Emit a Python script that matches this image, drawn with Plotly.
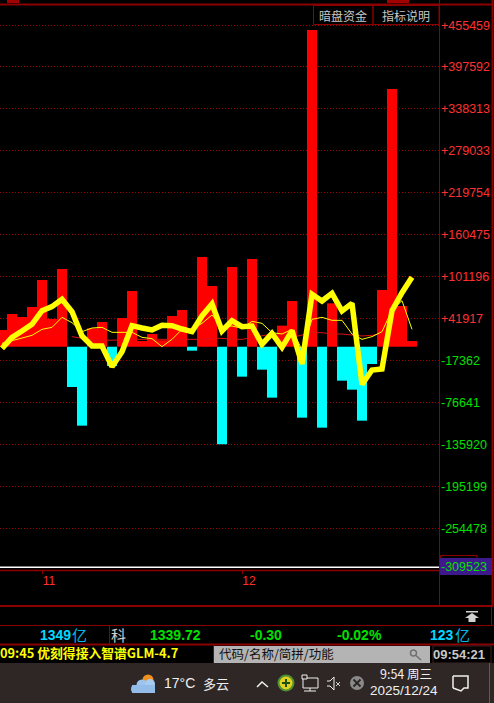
import numpy as np
import plotly.graph_objects as go

# Values
slots = list(range(42))
flow = [25407, 47991, 43757, 57872, 95982, 40934, 111509, -55049, -109627, 27760,
        36699, -25407, 42345, 80456, 9881, 19761, 11000, 45168, 53637, -3764,
        128447, 87513, -135975, 114332, -40463, 125624, -30583, -70105, 31524, 66341,
        -98335, 448857, -112450, 63047, -46109, -58813, -102569, -22584, 81867, 365579,
        59283, 9881]
thick_line = [-470, 15056, 23996, 33406, 52696, 58342, 68693, 51285, 16938, 2823,
              2823, -26348, -5176, 31524, 28230, 25407, 31994, 31524, 26819, 23055,
              45168, 62106, 23996, 38581, 30112, 31053, 5176, 20702, 941, 24466,
              -22584, 75751, 66341, 77162, 52226, 63047, -51285, -31053, -29642, 52696,
              78103, 99746]
thin_yellow = [6587, 10351, 13174, 17879, 26348, 29171, 43286, 35758, 23055, 28230,
               29171, 22114, 22114, 22114, 15056, 13174, 1882, 12233, 26348, 26819,
               34817, 46580, 30112, 31053, 27760, 37640, 34817, 21643, 19761, 26348,
               -2823, 40463, 43286, 39052, 39052, 19761, 12233, 15997, 23055, 53637,
               66811, 26348]
red_slots = list(range(7, 39))
thin_red = [15997, 13174, 11292, 10822, 10822, 11292, 12233, 12704, 12233, 12233,
            12233, 12233, 12233, 12233, 13645, 13645, 12233, 12233, 14586, 16938,
            19761, 17879, 15056, 18350, 21643, 21643, 19761, 19761, 18350, 16938,
            17879, 20702]
y_ticks = [455459, 397592, 338313, 279033, 219754, 160475, 101196, 41917,
           -17362, -76641, -135920, -195199, -254478]
bottom_level = -309523
month_slots = [4, 24]
month_labels = ["11", "12"]
bar_base = 1800

RED = "#ff0000"
CYAN = "#00ffff"
YELLOW = "#ffff00"
FRAME = "#8b0000"
W, H = 494, 703

# axis helpers, 1411.4 per pixel on the value scale
def val_at(py):
    return 41917 + (318.3 - py) * 1411.4

plot_top, plot_bottom = 5, 570
plot_right = 439

flow = np.array(flow)
pos = np.where(flow > 0, flow - bar_base, None)
neg = np.where(flow < 0, flow - bar_base, None)

fig = go.Figure()
fig.add_trace(go.Bar(x=slots, y=pos, base=bar_base, width=1, marker=dict(color=RED, line_width=0)))
fig.add_trace(go.Bar(x=slots, y=neg, base=bar_base, width=1, marker=dict(color=CYAN, line_width=0)))
fig.add_trace(go.Scatter(x=red_slots, y=thin_red, mode="lines", line=dict(color="#e01010", width=1)))
fig.add_trace(go.Scatter(x=slots, y=thin_yellow, mode="lines", line=dict(color=YELLOW, width=1)))
fig.add_trace(go.Scatter(x=slots, y=thick_line, mode="lines", line=dict(color=YELLOW, width=5.5)))
fig.add_trace(go.Scatter(x=[-0.2, 43.7], y=[bottom_level, bottom_level], mode="lines",
                         line=dict(color="#ffffff", width=1.5)))

tick_text = []
for v in y_ticks:
    if v > 0:
        tick_text.append(f"<span style='color:#ff3030'>+{v}</span>")
    else:
        tick_text.append(f"<span style='color:#00e000'>{v}</span>")

fig.update_layout(
    width=W, height=H, margin=dict(l=0, r=0, t=0, b=0),
    paper_bgcolor="#000000", plot_bgcolor="#000000",
    barmode="overlay", showlegend=False,
    font=dict(family="Liberation Sans", size=12),
    xaxis=dict(domain=[0, plot_right / W], range=[-0.2, 43.7], tickvals=month_slots,
               ticktext=month_labels, ticks="outside", ticklen=3, tickcolor=FRAME,
               tickfont=dict(color="#ff3030", size=12), ticklabelshift=7,
               ticklabelstandoff=-3, showgrid=False, zeroline=False, showline=False),
    yaxis=dict(domain=[1 - plot_bottom / H, 1 - plot_top / H],
               range=[val_at(plot_bottom), val_at(plot_top)],
               side="right", tickvals=y_ticks, ticktext=tick_text, ticks="",
               tickfont=dict(size=12.5), ticklabelstandoff=1,
               showgrid=True, gridcolor="#a00000", griddash="1px,2px", gridwidth=1,
               zeroline=False, showline=False),
)

shapes = []

def box(x0, y0, x1, y1, fill=None, line=None, lw=1):
    shapes.append(dict(type="rect", xref="paper", yref="paper", x0=x0 / W, x1=x1 / W,
                       y0=1 - y0 / H, y1=1 - y1 / H, fillcolor=fill,
                       line=dict(color=line, width=lw if line else 0)))

def seg(x0, y0, x1, y1, color=FRAME, lw=1):
    shapes.append(dict(type="line", xref="paper", yref="paper", x0=x0 / W, x1=x1 / W,
                       y0=1 - y0 / H, y1=1 - y1 / H, line=dict(color=color, width=lw)))

def circle(cx, cy, r, fill, line=None, lw=1):
    shapes.append(dict(type="circle", xref="paper", yref="paper", x0=(cx - r) / W, x1=(cx + r) / W,
                       y0=1 - (cy - r) / H, y1=1 - (cy + r) / H, fillcolor=fill,
                       line=dict(color=line, width=lw if line else 0)))

def poly(points, fill=None, line=None, lw=1):
    d = "M" + " L".join(f"{x / W:.5f},{1 - y / H:.5f}" for x, y in points)
    if fill:
        d += " Z"
    shapes.append(dict(type="path", xref="paper", yref="paper", path=d, fillcolor=fill,
                       line=dict(color=line, width=lw if line else 0)))

def label(x, y, text, color, size=12, family="Noto Sans CJK SC", anchor="left", bold=False):
    if bold:
        text = f"<b>{text}</b>"
    fig.add_annotation(xref="paper", yref="paper", x=x / W, y=1 - y / H, text=text,
                       showarrow=False, xanchor=anchor, yanchor="middle",
                       font=dict(color=color, size=size, family=family),
                       borderpad=0, borderwidth=0)

# frame of the terminal window
seg(0, 4.5, 492, 4.5, lw=2)
seg(439.5, 0, 439.5, 605)
seg(492.5, 0, 492.5, 606, lw=2)
seg(0, 570.5, 440, 570.5, lw=1.5)
seg(0, 606, 493, 606, lw=2)
seg(491.5, 606, 491.5, 626)
seg(0, 625.5, 494, 625.5)
seg(109.5, 626, 109.5, 644)
seg(0, 644.5, 494, 644.5, lw=2)

# scraps of the title row above the frame
box(7, 0, 19, 3, fill="#a00000")
box(387, 0, 409, 3, fill="#a00000")

# indicator buttons
box(313.5, 5.5, 373, 24.5, line=FRAME, lw=1)
box(373, 5.5, 439, 24.5, line=FRAME, lw=1)
label(343, 15, "暗盘资金", "#c8c8c8", anchor="center")
label(406, 15, "指标说明", "#c8c8c8", anchor="center")

# last value tag on the axis
box(440.5, 555.5, 477, 560, line=FRAME)
box(440, 558, 492, 575, fill="#3c1a8c")
label(441, 567, str(bottom_level), "#00e000", size=12.5, family="Liberation Sans")

# collapse arrow
poly([(466, 611), (478, 611), (478, 612.5), (466, 612.5)], fill="#d0d0d0")
poly([(472, 613), (479, 618), (475.5, 618), (475.5, 622), (468.5, 622), (468.5, 618), (465, 618)],
     fill="#d0d0d0")

# status row
label(40, 634.5, "1349", "#00d8ff", size=14, family="Liberation Sans", bold=True)
label(72, 634.5, "亿", "#00b8e8", size=15)
label(111, 634, "科", "#d0d0d0", size=15)
label(150, 634.5, "1339.72", "#00e000", size=14, family="Liberation Sans", bold=True)
label(250, 634.5, "-0.30", "#00e000", size=14, family="Liberation Sans", bold=True)
label(337, 634.5, "-0.02%", "#00e000", size=14, family="Liberation Sans", bold=True)
label(430, 634.5, "123", "#00d8ff", size=14, family="Liberation Sans", bold=True)
label(455, 634.5, "亿", "#00b8e8", size=15)

# ticker, search box and clock
label(0, 652.5, "09:45 优刻得接入智谱GLM-4.7", YELLOW, size=12.8, bold=True)
seg(213.5, 645, 213.5, 663)
box(214, 646, 430, 663, fill="#b4b4b4")
label(219, 653.5, "代码/名称/简拼/功能", "#101010", size=12.5)
circle(413.5, 653, 3, None, line="#707070", lw=1.5)
seg(416, 655.5, 421, 660, color="#707070", lw=1.5)
box(433, 646, 491, 663, line="#402020")
label(433, 654.5, "09:54:21", "#c8c8c8", size=13, family="Liberation Sans", bold=True)

# taskbar
box(0, 663, 494, 703, fill="#2e2725")
circle(148, 680, 5.5, "#f09020")
circle(142, 685, 5.5, "#9cc4ec")
circle(150, 684, 5, "#a8ccf0")
box(132, 685, 155, 693, fill="#94bce8")
circle(135, 689, 4, "#94bce8")
label(164, 683, "17°C", "#f0f0f0", size=14, family="Liberation Sans")
label(203, 683, "多云", "#f0f0f0", size=13)
poly([(257, 687), (262, 682), (268, 687)], line="#f0f0f0", lw=1.5)
circle(286, 683, 7.5, "#e0d020", line="#509030", lw=2)
seg(282, 683, 290, 683, color="#205010", lw=2)
seg(286, 679, 286, 687, color="#205010", lw=2)
box(303, 678, 318, 688, line="#f0f0f0")
box(302, 675, 307, 679, fill="#2e2725", line="#f0f0f0")
seg(310, 688, 310, 691, color="#f0f0f0")
seg(304, 691, 316, 691, color="#f0f0f0")
poly([(327, 681), (330, 681), (334, 677), (334, 690), (330, 686), (327, 686)], line="#f0f0f0")
seg(336, 682, 340, 686, color="#d0d0d0")
seg(340, 682, 336, 686, color="#d0d0d0")
circle(357, 683, 7, "#8a8a8a")
seg(353.5, 679.5, 360.5, 686.5, color="#2e2725", lw=2)
seg(360.5, 679.5, 353.5, 686.5, color="#2e2725", lw=2)
label(406, 673, "9:54 周三", "#f0f0f0", size=12.5, anchor="center")
label(404, 690, "2025/12/24", "#f0f0f0", size=13.5, family="Liberation Sans", anchor="center")
poly([(453, 676), (468, 676), (468, 688), (464, 688), (461, 691), (453, 688)], fill=None, line="#f0f0f0", lw=1.5)
poly([(453, 676), (453, 688)], line="#f0f0f0", lw=1.5)
seg(489.5, 663, 489.5, 703, color="#605a58")

fig.update_layout(shapes=shapes)

fig.write_html("out.html", config=dict(displayModeBar=False),
               post_script="document.body.style.margin='0';document.body.style.background='#000';")
